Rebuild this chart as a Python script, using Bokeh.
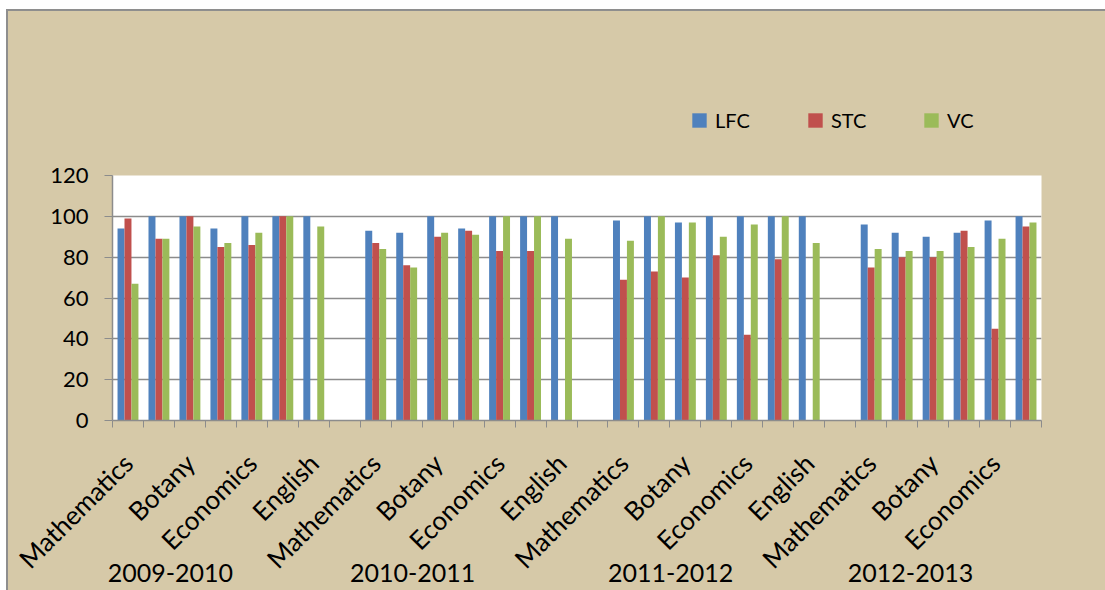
import numpy as np
from math import pi
from bokeh.plotting import figure
from bokeh.layouts import column
from bokeh.models import FixedTicker, Legend, LegendItem, LinearAxis
from bokeh.embed import file_html
from bokeh.resources import INLINE

# ---------------- data ----------------
years = ["2009-2010", "2010-2011", "2011-2012", "2012-2013"]
subjects = [
    "Mathematics", "", "Botany", "", "Economics", "", "English", "",
    "Mathematics", "", "Botany", "", "Economics", "", "English", "",
    "Mathematics", "", "Botany", "", "Economics", "", "English", "",
    "Mathematics", "", "Botany", "", "Economics", "",
]
series_names = ["LFC", "STC", "VC"]
lfc = [94, 100, 100, 94, 100, 100, 100, 0,
       93, 92, 100, 94, 100, 100, 100, 0,
       98, 100, 97, 100, 100, 100, 100, 0,
       96, 92, 90, 92, 98, 100]
stc = [99, 89, 100, 85, 86, 100, 0, 0,
       87, 76, 90, 93, 83, 83, 0, 0,
       69, 73, 70, 81, 42, 79, 0, 0,
       75, 80, 80, 93, 45, 95]
vc = [67, 89, 95, 87, 92, 100, 95, 0,
      84, 75, 92, 91, 100, 100, 89, 0,
      88, 100, 97, 90, 96, 100, 87, 0,
      84, 83, 83, 85, 89, 97]
y_ticks = [0, 20, 40, 60, 80, 100, 120]

# ---------------- style / layout ----------------
colors = ["#4f81bd", "#c0504d", "#9bbb59"]
bar_w = 0.225
year_label_x = [2.37, 10.19, 18.52, 26.27]     # data units (manual text boxes)
FONT = "Lato"
GRID = "#8c8c8c"
BG = "#d6c9a8"
W = 1097

n = len(subjects)
xs = np.arange(1, n + 1)

# ---- legend strip (top) ----
leg = figure(width=W, height=150, x_range=(0, 1), y_range=(0, 1),
             x_axis_type=None, y_axis_type=None,
             output_backend="svg", toolbar_location=None,
             min_border_left=0, min_border_right=0,
             min_border_top=0, min_border_bottom=0,
             background_fill_color=None, border_fill_color=BG)
leg.outline_line_color = None
leg.xgrid.grid_line_color = None
leg.ygrid.grid_line_color = None
# zero-size swatch renderers (only used to draw the legend keys)
swatches = [leg.vbar(x=[0], top=[0], width=0, fill_color=c, line_color=None)
            for c in colors]
legend = Legend(items=[LegendItem(label=nm, renderers=[r])
                       for nm, r in zip(series_names, swatches)],
                orientation="horizontal", location=(578, 29),
                padding=0, margin=0, spacing=0,
                glyph_width=18, glyph_height=18, label_standoff=7,
                label_width=91, label_height=20,
                label_text_font=FONT, label_text_font_size="20px",
                label_text_color="black",
                background_fill_alpha=0, border_line_color=None)
leg.add_layout(legend)

# ---- main chart ----
p = figure(width=W, height=429,
           x_range=(0.5, n + 0.5), y_range=(0, 120),
           output_backend="svg", toolbar_location=None,
           min_border_left=104, min_border_right=64,
           min_border_top=14, min_border_bottom=170,
           background_fill_color="white", border_fill_color=BG)
p.outline_line_color = None

for k, (vals, col) in enumerate(zip([lfc, stc, vc], colors)):
    p.vbar(x=xs + (k - 1) * bar_w, top=vals, width=bar_w,
           fill_color=col, line_color=None)

# x axis (subjects)
p.xaxis.ticker = FixedTicker(ticks=[int(x) for x, s in zip(xs, subjects) if s],
                             minor_ticks=list(np.arange(0.5, n + 1, 1.0)))
p.xaxis.major_label_overrides = {int(x): s for x, s in zip(xs, subjects) if s}
p.xaxis.major_label_orientation = pi / 4
p.xaxis.major_tick_line_color = None
p.xaxis.major_tick_out = 0
p.xaxis.major_tick_in = 0
p.xaxis.minor_tick_line_color = GRID
p.xaxis.minor_tick_out = 7
p.xaxis.minor_tick_in = 0
p.xaxis.axis_line_color = GRID
p.xaxis.axis_line_width = 1.5
p.xaxis.major_label_text_font = FONT
p.xaxis.major_label_text_font_size = "26px"
p.xaxis.major_label_text_color = "black"
p.xaxis.major_label_standoff = 31
p.xgrid.grid_line_color = None

# second x axis (years)
year_axis = LinearAxis(ticker=FixedTicker(ticks=year_label_x),
                       major_label_overrides={x: y for x, y in zip(year_label_x, years)},
                       axis_line_color=None, major_tick_line_color=None,
                       minor_tick_line_color=None, major_tick_out=0, major_tick_in=0,
                       major_label_standoff=-25,
                       major_label_text_font=FONT, major_label_text_font_size="25px",
                       major_label_text_color="black")
p.add_layout(year_axis, "below")

# y axis
p.yaxis.ticker = FixedTicker(ticks=y_ticks)
p.yaxis.minor_tick_line_color = None
p.yaxis.major_tick_out = 8
p.yaxis.major_tick_in = 0
p.yaxis.major_tick_line_color = GRID
p.yaxis.axis_line_color = GRID
p.yaxis.axis_line_width = 1.5
p.yaxis.major_label_text_font = FONT
p.yaxis.major_label_text_font_size = "22px"
p.yaxis.major_label_text_color = "black"
p.yaxis.major_label_standoff = 16
p.ygrid.grid_line_color = GRID
p.ygrid.grid_line_width = 1.5

layout = column(leg, p, spacing=0)
layout.styles = {"margin-left": "8px", "margin-top": "11px",
                 "background-color": BG, "outline": "2px solid #8e8e8e"}

open("out.html", "w").write(file_html(layout, INLINE))
